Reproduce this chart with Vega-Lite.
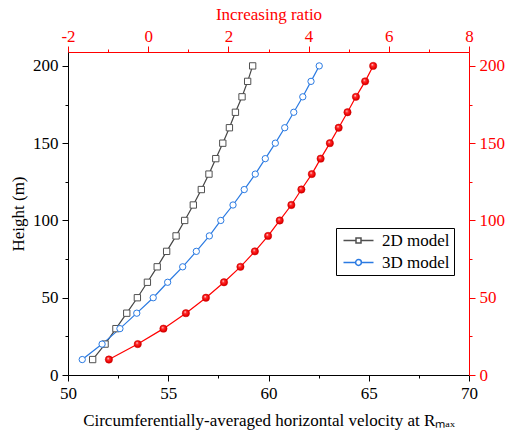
{
  "$schema": "https://vega.github.io/schema/vega-lite/v6.json",
  "width": 401,
  "height": 323,
  "autosize": {"type": "none"},
  "padding": {"left": 68, "top": 52, "right": 37, "bottom": 58},
  "background": "white",
  "config": {
    "view": {"stroke": null},
    "axis": {"grid": false, "labelFont": "Liberation Serif", "titleFont": "Liberation Serif", "labelFontSize": 17, "titleFontSize": 17, "titleFontWeight": "normal", "labelFlush": false, "labelOverlap": false, "domainWidth": 1, "tickWidth": 1}
  },
  "datasets": {
    "vel": [
      {"model": "2D model", "height": 10, "velocity": 51.23},
      {"model": "2D model", "height": 20, "velocity": 51.85},
      {"model": "2D model", "height": 30, "velocity": 52.39},
      {"model": "2D model", "height": 40, "velocity": 52.93},
      {"model": "2D model", "height": 50, "velocity": 53.46},
      {"model": "2D model", "height": 60, "velocity": 53.96},
      {"model": "2D model", "height": 70, "velocity": 54.45},
      {"model": "2D model", "height": 80, "velocity": 54.92},
      {"model": "2D model", "height": 90, "velocity": 55.39},
      {"model": "2D model", "height": 100, "velocity": 55.82},
      {"model": "2D model", "height": 110, "velocity": 56.25},
      {"model": "2D model", "height": 120, "velocity": 56.65},
      {"model": "2D model", "height": 130, "velocity": 57.03},
      {"model": "2D model", "height": 140, "velocity": 57.37},
      {"model": "2D model", "height": 150, "velocity": 57.72},
      {"model": "2D model", "height": 160, "velocity": 58.05},
      {"model": "2D model", "height": 170, "velocity": 58.35},
      {"model": "2D model", "height": 180, "velocity": 58.68},
      {"model": "2D model", "height": 190, "velocity": 58.96},
      {"model": "2D model", "height": 200, "velocity": 59.21},
      {"model": "3D model", "height": 10, "velocity": 50.71},
      {"model": "3D model", "height": 20, "velocity": 51.70},
      {"model": "3D model", "height": 30, "velocity": 52.59},
      {"model": "3D model", "height": 40, "velocity": 53.43},
      {"model": "3D model", "height": 50, "velocity": 54.25},
      {"model": "3D model", "height": 60, "velocity": 54.97},
      {"model": "3D model", "height": 70, "velocity": 55.72},
      {"model": "3D model", "height": 80, "velocity": 56.40},
      {"model": "3D model", "height": 90, "velocity": 57.05},
      {"model": "3D model", "height": 100, "velocity": 57.62},
      {"model": "3D model", "height": 110, "velocity": 58.23},
      {"model": "3D model", "height": 120, "velocity": 58.79},
      {"model": "3D model", "height": 130, "velocity": 59.34},
      {"model": "3D model", "height": 140, "velocity": 59.84},
      {"model": "3D model", "height": 150, "velocity": 60.34},
      {"model": "3D model", "height": 160, "velocity": 60.81},
      {"model": "3D model", "height": 170, "velocity": 61.26},
      {"model": "3D model", "height": 180, "velocity": 61.71},
      {"model": "3D model", "height": 190, "velocity": 62.12},
      {"model": "3D model", "height": 200, "velocity": 62.53}
    ],
    "ratio": [
      {"height": 10, "ratio": -0.98},
      {"height": 20, "ratio": -0.26},
      {"height": 30, "ratio": 0.38},
      {"height": 40, "ratio": 0.94},
      {"height": 50, "ratio": 1.44},
      {"height": 60, "ratio": 1.89},
      {"height": 70, "ratio": 2.30},
      {"height": 80, "ratio": 2.66},
      {"height": 90, "ratio": 2.99},
      {"height": 100, "ratio": 3.28},
      {"height": 110, "ratio": 3.57},
      {"height": 120, "ratio": 3.82},
      {"height": 130, "ratio": 4.08},
      {"height": 140, "ratio": 4.30},
      {"height": 150, "ratio": 4.53},
      {"height": 160, "ratio": 4.75},
      {"height": 170, "ratio": 4.97},
      {"height": 180, "ratio": 5.18},
      {"height": 190, "ratio": 5.41},
      {"height": 200, "ratio": 5.61}
    ]
  },
  "layer": [
    {
      "data": {"name": "ratio"},
      "encoding": {
        "x": {"field": "ratio", "type": "quantitative",
          "scale": {"domain": [-2, 8], "nice": false, "zero": false},
          "axis": {"orient": "top", "title": "Increasing ratio", "values": [-2, -1, 0, 1, 2, 3, 4, 5, 6, 7, 8],
            "labelExpr": "datum.value % 2 === 0 ? '' + datum.value : ''",
            "tickSize": {"condition": {"test": "datum.value % 2 === 0", "value": 6}, "value": 3},
            "labelPadding": 1, "titlePadding": 4,
            "domainColor": "#ff0000", "tickColor": "#ff0000", "labelColor": "#ff0000", "titleColor": "#ff0000"}},
        "y": {"field": "height", "type": "quantitative",
          "scale": {"domain": [0, 209], "nice": false},
          "axis": {"orient": "right", "title": null, "values": [0, 25, 50, 75, 100, 125, 150, 175, 200],
            "labelExpr": "datum.value % 50 === 0 ? '' + datum.value : ''",
            "tickSize": {"condition": {"test": "datum.value % 50 === 0", "value": 6}, "value": 3},
            "labelPadding": 4,
            "domainColor": "#ff0000", "tickColor": "#ff0000", "labelColor": "#ff0000"}}
      },
      "layer": [
        {"mark": {"type": "line", "color": "#ff0000", "strokeWidth": 1.2}},
        {"mark": {"type": "point", "shape": "circle", "size": 54, "filled": true, "opacity": 1, "strokeWidth": 0.5, "stroke": "#d00000",
          "fill": {"gradient": "radial", "x1": 0.38, "y1": 0.32, "r1": 0, "x2": 0.5, "y2": 0.5, "r2": 0.55,
            "stops": [{"offset": 0, "color": "#ffffff"}, {"offset": 0.3, "color": "#ff3030"}, {"offset": 0.75, "color": "#ee0000"}, {"offset": 1, "color": "#b00000"}]}}}
      ]
    },
    {
      "data": {"name": "vel"},
      "encoding": {
        "x": {"field": "velocity", "type": "quantitative",
          "scale": {"domain": [50, 70], "nice": false, "zero": false},
          "axis": {"orient": "bottom", "title": "Circumferentially-averaged horizontal velocity at Rₘₐₓ",
            "values": [50, 52.5, 55, 57.5, 60, 62.5, 65, 67.5, 70],
            "labelExpr": "datum.value % 5 === 0 ? '' + datum.value : ''",
            "tickSize": {"condition": {"test": "datum.value % 5 === 0", "value": 6}, "value": 3},
            "labelPadding": 4, "titlePadding": 11,
            "domainColor": "black", "tickColor": "black", "labelColor": "black", "titleColor": "black"}},
        "y": {"field": "height", "type": "quantitative",
          "scale": {"domain": [0, 209], "nice": false},
          "axis": {"orient": "left", "title": "Height (m)", "values": [0, 25, 50, 75, 100, 125, 150, 175, 200],
            "labelExpr": "datum.value % 50 === 0 ? '' + datum.value : ''",
            "tickSize": {"condition": {"test": "datum.value % 50 === 0", "value": 6}, "value": 3},
            "labelPadding": 4, "titlePadding": 5,
            "domainColor": "black", "tickColor": "black", "labelColor": "black", "titleColor": "black"}}
      },
      "layer": [
        {"mark": {"type": "line", "strokeWidth": 1.2},
          "encoding": {"color": {"field": "model", "type": "nominal",
            "scale": {"domain": ["2D model", "3D model"], "range": ["#454545", "#2a7ae2"]}, "legend": null}}},
        {"mark": {"type": "point", "size": 40, "filled": true, "fill": "white", "strokeWidth": 1, "opacity": 1},
          "encoding": {
            "stroke": {"field": "model", "type": "nominal",
              "scale": {"domain": ["2D model", "3D model"], "range": ["#505050", "#2a7ae2"]}, "legend": null},
            "shape": {"field": "model", "type": "nominal",
              "scale": {"domain": ["2D model", "3D model"], "range": ["square", "circle"]}, "legend": null}}}
      ]
    },
    {
      "data": {"name": "vel"},
      "transform": [{"filter": "datum.height < 0"}],
      "mark": {"type": "point", "size": 144, "filled": true, "fill": "white", "strokeWidth": 1.3, "opacity": 1},
      "encoding": {
        "stroke": {"field": "model", "type": "nominal",
          "scale": {"domain": ["2D model", "3D model"], "range": ["#505050", "#2a7ae2"]},
          "legend": {"orient": "none", "legendX": 268, "legendY": 176, "title": null, "padding": 4,
            "strokeColor": "black", "fillColor": "white", "labelFont": "Liberation Serif", "labelFontSize": 17,
            "labelColor": "black", "labelOffset": 25, "rowPadding": 4}},
        "shape": {"field": "model", "type": "nominal",
          "scale": {"domain": ["2D model", "3D model"],
            "range": ["M-1,0H1.5M2.5,0H5M1.5,-0.5H2.5V0.5H1.5Z", "M-1,0H1.42M2.58,0H5M2.58,0A0.58,0.58,0,1,1,1.42,0A0.58,0.58,0,1,1,2.58,0Z"]},
          "legend": {"orient": "none", "legendX": 268, "legendY": 176, "title": null, "padding": 4,
            "strokeColor": "black", "fillColor": "white", "labelFont": "Liberation Serif", "labelFontSize": 17,
            "labelColor": "black", "labelOffset": 25, "rowPadding": 4}}
      }
    }
  ],
  "resolve": {"scale": {"x": "independent", "y": "independent", "color": "independent", "stroke": "independent", "shape": "independent"}}
}
